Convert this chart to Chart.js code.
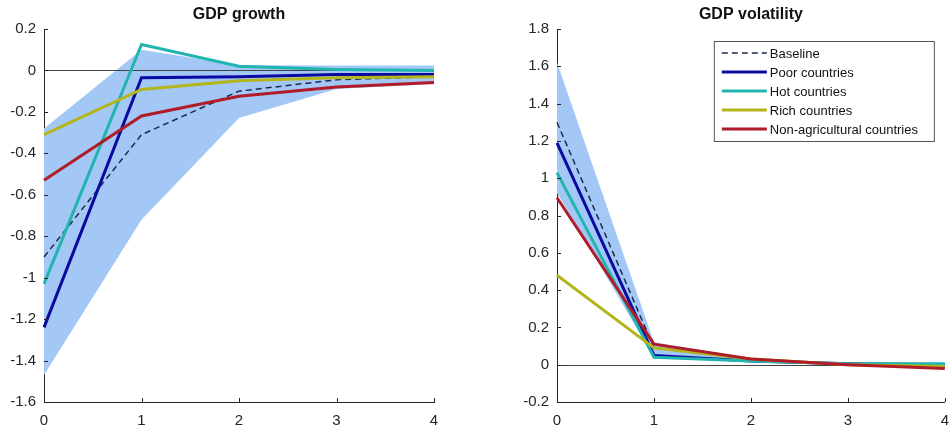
<!DOCTYPE html>
<html>
<head>
<meta charset="utf-8">
<script src="https://cdn.jsdelivr.net/npm/chart.js@4"></script>
<style>
html,body{margin:0;padding:0;background:#fff;width:950px;height:434px;overflow:hidden;}
canvas{position:absolute;top:0;}
#c1{left:0;}
#c2{left:475px;}
</style>
</head>
<body>
<canvas id="c1" width="475" height="434"></canvas>
<canvas id="c2" width="484" height="434"></canvas>
<script>
// ---- data ----
const steps = ['0', '1', '2', '3', '4'];
const seriesNames = ['Baseline', 'Poor countries', 'Hot countries', 'Rich countries', 'Non-agricultural countries'];

// GDP growth
const growthBaseline = [-0.90, -0.31, -0.10, -0.045, -0.03];
const growthPoor     = [-1.24, -0.035, -0.03, -0.02, -0.02];
const growthHot      = [-1.03, 0.125, 0.02, 0.005, 0.0];
const growthRich     = [-0.31, -0.092, -0.05, -0.035, -0.03];
const growthNonAgri  = [-0.53, -0.22, -0.125, -0.08, -0.058];
const growthBandLow  = [-1.47, -0.72, -0.23, -0.09, -0.065];
const growthBandHigh = [-0.28, 0.10, 0.025, 0.024, 0.024];
const growthTicks    = [0.2, 0, -0.2, -0.4, -0.6, -0.8, -1, -1.2, -1.4, -1.6];

// GDP volatility
const volBaseline = [1.30, 0.09, 0.03, 0.0, -0.01];
const volPoor     = [1.19, 0.05, 0.02, 0.005, 0.0];
const volHot      = [1.03, 0.04, 0.02, 0.005, 0.005];
const volRich     = [0.48, 0.09, 0.03, 0.0, -0.01];
const volNonAgri  = [0.895, 0.11, 0.03, 0.0, -0.02];
const volBandLow  = [0.92, 0.04, 0.02, -0.005, -0.02];
const volBandHigh = [1.62, 0.12, 0.035, 0.01, 0.01];
const volTicks    = [1.8, 1.6, 1.4, 1.2, 1, 0.8, 0.6, 0.4, 0.2, 0, -0.2];

// ---- styles ----
const colors = ['#1c2a4a', '#0a0aa0', '#22b5b0', '#b3b51c', '#b01c28'];
const bandColor = '#a4c8f6';
const axisColor = '#262626';
const fontFamily = '"Liberation Sans", Arial, Helvetica, sans-serif';

function lineDatasets(values) {
  return values.map((v, i) => ({
    label: seriesNames[i],
    data: v,
    borderColor: colors[i],
    backgroundColor: colors[i],
    borderWidth: i === 0 ? 1.5 : 3,
    borderDash: i === 0 ? [6, 4] : [],
    pointRadius: 0,
    tension: 0,
    fill: false,
    order: 5 - i
  }));
}
function bandDatasets(low, high) {
  return [
    { label: '_bandLow', data: low, borderWidth: 0, pointRadius: 0, fill: false, order: 20, borderColor: 'transparent' },
    { label: '_bandHigh', data: high, borderWidth: 0, pointRadius: 0, fill: '-1', backgroundColor: bandColor, order: 19, borderColor: 'transparent' }
  ];
}

const decorPlugin = {
  id: 'decor',
  afterDatasetDraw(chart, args, opts) {
    const ds = chart.data.datasets[args.index];
    if (ds.label !== '_bandHigh') return;
    const ctx = chart.ctx, a = chart.chartArea, y = chart.scales.y.getPixelForValue(0);
    ctx.save();
    ctx.strokeStyle = '#444';
    ctx.lineWidth = 1;
    ctx.beginPath();
    ctx.moveTo(a.left, Math.round(y) + 0.5);
    ctx.lineTo(a.right, Math.round(y) + 0.5);
    ctx.stroke();
    ctx.restore();
  },
  afterDraw(chart, args, opts) {
    const ctx = chart.ctx, a = chart.chartArea;
    ctx.save();
    // inward ticks
    ctx.strokeStyle = axisColor;
    ctx.lineWidth = 1;
    chart.scales.y.ticks.forEach(t => {
      const y = Math.round(chart.scales.y.getPixelForValue(t.value)) + 0.5;
      ctx.beginPath(); ctx.moveTo(a.left, y); ctx.lineTo(a.left + 4, y); ctx.stroke();
    });
    chart.scales.x.ticks.forEach((t, i) => {
      const x = Math.round(chart.scales.x.getPixelForTick(i)) + 0.5;
      ctx.beginPath(); ctx.moveTo(x, a.bottom); ctx.lineTo(x, a.bottom - 4); ctx.stroke();
    });
    // title
    ctx.fillStyle = '#111';
    ctx.font = 'bold 16px ' + fontFamily;
    ctx.textAlign = 'center';
    ctx.textBaseline = 'middle';
    ctx.fillText(opts.title, (a.left + a.right) / 2, 15);
    // legend
    if (opts.legend) {
      const bx = a.right - 231, by = a.top + 12, bw = 220, bh = 100;
      ctx.fillStyle = '#fff';
      ctx.fillRect(bx, by, bw, bh);
      ctx.strokeStyle = '#555';
      ctx.lineWidth = 1;
      ctx.strokeRect(bx + 0.5, by + 0.5, bw, bh);
      ctx.font = '13px ' + fontFamily;
      ctx.textAlign = 'left';
      ctx.textBaseline = 'middle';
      const items = chart.data.datasets.filter(d => !d.label.startsWith('_'));
      items.forEach((d, i) => {
        const y = by + 12 + i * 19;
        ctx.save();
        ctx.strokeStyle = d.borderColor;
        ctx.lineWidth = d.borderWidth;
        ctx.setLineDash(d.borderDash || []);
        ctx.beginPath(); ctx.moveTo(bx + 8, y); ctx.lineTo(bx + 53, y); ctx.stroke();
        ctx.restore();
        ctx.fillStyle = '#111';
        ctx.fillText(d.label, bx + 56, y + 1);
      });
    }
    ctx.restore();
  }
};

function makeChart(id, lines, low, high, tickVals, title, yWidth, padRight, legend) {
  const min = Math.min(...tickVals), max = Math.max(...tickVals);
  new Chart(document.getElementById(id), {
    type: 'line',
    data: { labels: steps, datasets: [...lineDatasets(lines), ...bandDatasets(low, high)] },
    plugins: [decorPlugin],
    options: {
      responsive: false,
      animation: false,
      layout: { padding: { top: 29, right: padRight, bottom: 0, left: 0 } },
      plugins: {
        legend: { display: false },
        tooltip: { enabled: false },
        title: { display: false },
        decor: { title: title, legend: legend }
      },
      scales: {
        x: {
          type: 'category',
          offset: false,
          grid: { display: false, drawTicks: false },
          border: { display: true, color: axisColor, width: 1 },
          ticks: { color: axisColor, font: { family: fontFamily, size: 15 }, padding: 10, maxRotation: 0 },
          afterFit(s) { s.height = 32; }
        },
        y: {
          min: min, max: max,
          afterBuildTicks(s) { s.ticks = tickVals.map(v => ({ value: v })); },
          grid: { display: false, drawTicks: false },
          border: { display: true, color: axisColor, width: 1 },
          ticks: {
            color: axisColor, font: { family: fontFamily, size: 15 }, padding: 8,
            callback: v => String(Number(Number(v).toFixed(1)) || 0)
          },
          afterFit(s) { s.width = yWidth; }
        }
      }
    }
  });
}

makeChart('c1', [growthBaseline, growthPoor, growthHot, growthRich, growthNonAgri],
  growthBandLow, growthBandHigh, growthTicks, 'GDP growth', 44, 41, false);
makeChart('c2', [volBaseline, volPoor, volHot, volRich, volNonAgri],
  volBandLow, volBandHigh, volTicks, 'GDP volatility', 82, 5, true);
</script>
</body>
</html>
